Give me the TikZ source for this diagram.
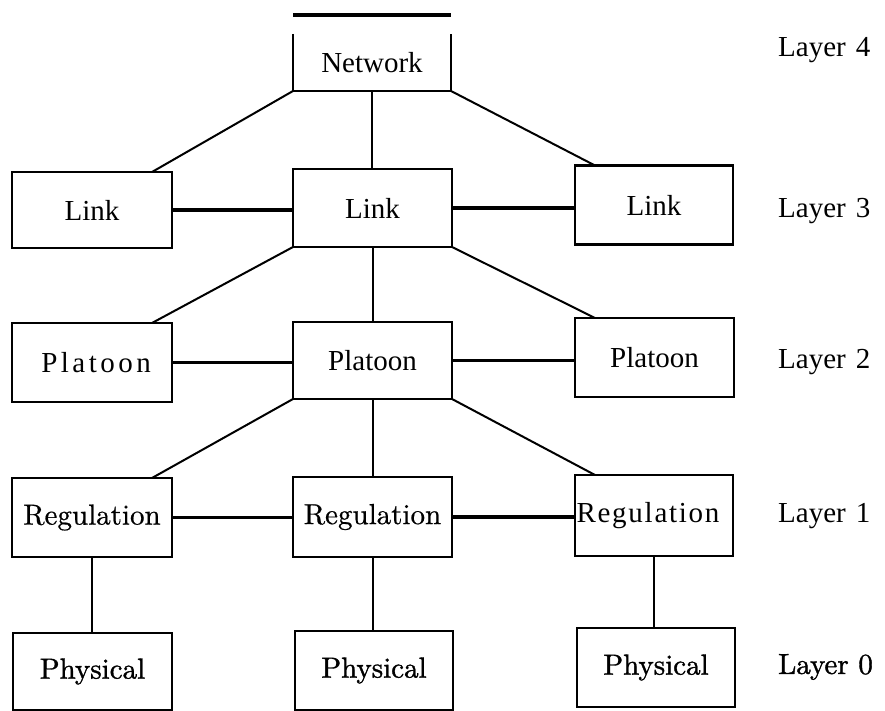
\documentclass[tikz,border=0pt]{standalone}
\usepackage{fontspec}
\newfontfamily\tnr{Liberation Serif}
\newfontfamily\tnrsp{Liberation Serif}[LetterSpace=12]
\newfontfamily\tnrspb{Liberation Serif}[LetterSpace=6]
\newfontfamily\lmbold{lmroman10-regular}[Extension=.otf, FakeBold=1.2]
\newfontfamily\lmmed{lmroman10-regular}[Extension=.otf, FakeBold=0.6]
\newcommand{\bigsz}{\fontsize{29}{34}\selectfont}
\begin{document}
\begin{tikzpicture}[x=1pt,y=-1pt,
  box/.style={draw, line width=2.6pt, inner sep=0pt, outer sep=0pt, minimum width=#1},
  box/.default=159pt,
  txt/.style={font=\tnr\bigsz},
  lmtxt/.style={font=\lmbold\bigsz},
  lmreg/.style={font=\lmmed\bigsz},
  thin/.style={line width=2pt},
  thick/.style={line width=3.5pt},
  layer/.style={anchor=west, inner sep=0pt}]
\useasboundingbox (0,0) rectangle (885,711);

% Layer 4
\coordinate (tl) at (293,15);
\coordinate (tr) at (451,15);
\draw[line width=3.6pt] (tl) -- (tr);
\node[inner sep=0pt, outer sep=0pt, minimum width=158pt, minimum height=57pt, txt] (net) at (372,62.5) {Network};
\draw[line width=2.6pt] (net.north west) -- (net.south west) -- (net.south east) -- (net.north east);

% Layer 3
\node[box=160pt, minimum height=76pt, txt] (ll) at (92,210) {Link};
\node[box=159pt, minimum height=78pt, txt] (lc) at (372.5,208) {Link};
\node[box=158pt, minimum height=79pt, txt] (lr) at (654,205) {Link};

% Layer 2
\node[box=160pt, minimum height=79pt, font=\tnrsp\bigsz] (pl) at (92,362.5) {\hspace*{8pt}Platoon};
\node[box=159pt, minimum height=77pt, txt] (pc) at (372.5,360.5) {Platoon};
\node[box=159pt, minimum height=79pt, txt] (pr) at (654.5,357.5) {Platoon};

% Layer 1
\node[box=160pt, minimum height=79pt, lmreg] (rl) at (92,517.5) {Regulation};
\node[box=159pt, minimum height=80pt, lmreg] (rc) at (372.5,517) {Regulation};
\node[box=158pt, minimum height=81pt, font=\tnrspb\bigsz] (rr) at (654,515.5) {Regulation\hspace*{12pt}};

% Layer 0
\node[box=159pt, minimum height=77pt, lmtxt] (phl) at (92.5,671.5) {Physical};
\node[box=158pt, minimum height=79pt, lmtxt] (phc) at (374,670.5) {Physical};
\node[box=158pt, minimum height=79pt, lmtxt] (phr) at (656,667.5) {Physical};

% connectors layer 4 -> 3
\draw[thin] (net.south west) -- ([xshift=-20pt]ll.north east);
\draw[thin] (net.south) -- (net.south |- lc.north);
\draw[thin] (net.south east) -- ([xshift=20pt]lr.north west);
\draw[thick] (ll.east) -- (ll.east -| lc.west);
\draw[thick] (lc.east) -- (lc.east -| lr.west);

% layer 3 -> 2
\draw[thin] (lc.south west) -- ([xshift=-20pt]pl.north east);
\draw[thin] (lc.south) -- (lc.south |- pc.north);
\draw[thin] (lc.south east) -- ([xshift=20pt]pr.north west);
\draw[thick] (pl.east) -- (pl.east -| pc.west);
\draw[thick] (pc.east) -- (pc.east -| pr.west);

% layer 2 -> 1
\draw[thin] (pc.south west) -- ([xshift=-20pt]rl.north east);
\draw[thin] (pc.south) -- (pc.south |- rc.north);
\draw[thin] (pc.south east) -- ([xshift=20pt]rr.north west);
\draw[thick] (rl.east) -- (rl.east -| rc.west);
\draw[thick] (rc.east) -- (rc.east -| rr.west);

% layer 1 -> 0
\draw[thin] (rl.south) -- (rl.south |- phl.north);
\draw[thin] (rc.south) -- (rc.south |- phc.north);
\draw[thin] (rr.south) -- (rr.south |- phr.north);

% layer labels
\node[layer, txt] (L4) at (778,50) {Layer\hspace{0.35em}4};
\node[layer, txt] (L3) at (778,211) {Layer\hspace{0.35em}3};
\node[layer, txt] (L2) at (778,362) {Layer\hspace{0.35em}2};
\node[layer, txt] (L1) at (778,516) {Layer\hspace{0.35em}1};
\node[layer, lmtxt] (L0) at (778,667) {Layer 0};
\end{tikzpicture}
\end{document}
